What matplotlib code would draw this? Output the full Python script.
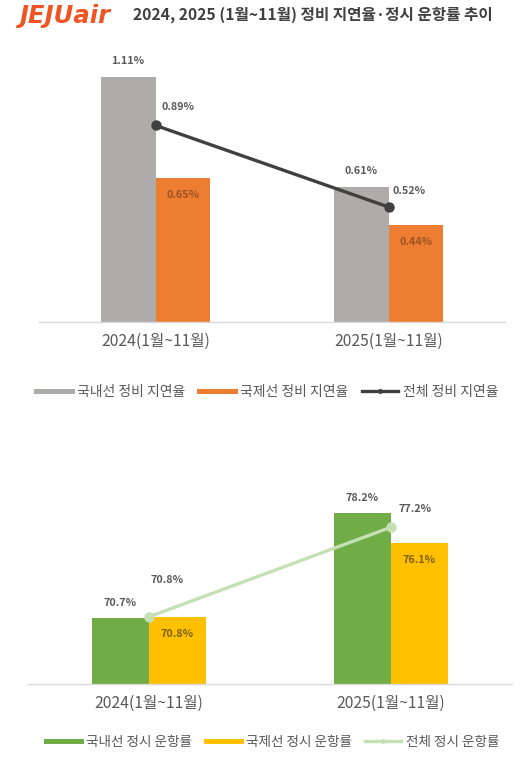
import matplotlib
matplotlib.use("Agg")
import matplotlib.pyplot as plt
from matplotlib.lines import Line2D
import numpy as np

plt.rcParams['font.family'] = ['Noto Sans CJK KR', 'DejaVu Sans']

categories = ['2024(1월~11월)', '2025(1월~11월)']

delay_domestic = [1.11, 0.61]
delay_international = [0.65, 0.44]
delay_total = [0.89, 0.52]
delay_labels = ['국내선 정비 지연율', '국제선 정비 지연율', '전체 정비 지연율']

ontime_domestic = [70.7, 78.2]
ontime_international = [70.8, 76.1]
ontime_total = [70.8, 77.2]
ontime_labels = ['국내선 정시 운항률', '국제선 정시 운항률', '전체 정시 운항률']

title_text = '2024, 2025 (1월~11월) 정비 지연율·정시 운항률 추이'
logo_text = 'JEJUair'

W, H = 520, 781
fig = plt.figure(figsize=(W / 100, H / 100), dpi=100)
fig.patch.set_facecolor('white')

def px_axes(left, top, right, bottom):
    return fig.add_axes([left / W, 1 - bottom / H, (right - left) / W, (bottom - top) / H])

LABEL_C = '#595959'
bw = 0.236

def style_axes(ax, ylim):
    ax.set_xlim(-0.5, 1.5)
    ax.set_ylim(*ylim)
    for s in ['top', 'right', 'left']:
        ax.spines[s].set_visible(False)
    ax.spines['bottom'].set_color('#d9d9d9')
    ax.spines['bottom'].set_linewidth(1.0)
    ax.set_yticks([])
    ax.set_xticks(np.arange(len(categories)))
    ax.set_xticklabels(categories, fontsize=11.3, color=LABEL_C)
    ax.tick_params(axis='x', length=0, pad=8)
    ax.set_facecolor('none')

def label(ax, x, y, txt, dx, dy, color=LABEL_C, weight='bold'):
    ax.annotate(txt, xy=(x, y), xytext=(dx, dy), textcoords='offset pixels',
                ha='center', va='center', fontsize=7.8, color=color, fontweight=weight)

x = np.arange(len(categories))

# ---------- Top chart ----------
ax1 = px_axes(39, 57, 505, 321.7)
style_axes(ax1, (0, 1.2))
ax1.bar(x - bw / 2, delay_domestic, bw, color='#afabab', zorder=2)
ax1.bar(x + bw / 2, delay_international, bw, color='#ed7d31', zorder=2)
ax1.plot(x, delay_total, color='#404040', lw=2.4, marker='o', ms=6.5, zorder=3)
for i in range(len(x)):
    label(ax1, x[i] - bw / 2, delay_domestic[i], f'{delay_domestic[i]:.2f}%', 0, 16)
    label(ax1, x[i] + bw / 2, delay_international[i], f'{delay_international[i]:.2f}%', 0, -17, color='#9c5324')
label(ax1, x[0], delay_total[0], f'{delay_total[0]:.2f}%', 23, 18)
label(ax1, x[1], delay_total[1], f'{delay_total[1]:.2f}%', 21, 16)

h1 = [Line2D([], [], color='#afabab', lw=3.6),
      Line2D([], [], color='#ed7d31', lw=3.6),
      Line2D([], [], color='#404040', lw=2.4, marker='o', ms=2.5)]
fig.legend(h1, delay_labels, loc='center', bbox_to_anchor=(267 / W, 1 - 391.7 / H),
           ncol=3, frameon=False, fontsize=10, handlelength=2.6, handletextpad=0.35,
           columnspacing=1.0, labelcolor=LABEL_C)

# ---------- Bottom chart ----------
ax2 = px_axes(28, 488, 512, 684)
style_axes(ax2, (66, 80))
ax2.bar(x - bw / 2, ontime_domestic, bw, color='#70ad47', zorder=2)
ax2.bar(x + bw / 2, ontime_international, bw, color='#ffc000', zorder=2)
ax2.plot(x, ontime_total, color='#c5e0b4', lw=2.4, marker='o', ms=6.5, zorder=3)
for i in range(len(x)):
    label(ax2, x[i] - bw / 2, ontime_domestic[i], f'{ontime_domestic[i]:.1f}%', 0, 15)
    label(ax2, x[i] + bw / 2, ontime_international[i], f'{ontime_international[i]:.1f}%', 0, -17, color='#7f6000')
label(ax2, x[0], ontime_total[0], f'{ontime_total[0]:.1f}%', 18, 37)
label(ax2, x[1], ontime_total[1], f'{ontime_total[1]:.1f}%', 24, 18)

h2 = [Line2D([], [], color='#70ad47', lw=3.6),
      Line2D([], [], color='#ffc000', lw=3.6),
      Line2D([], [], color='#c5e0b4', lw=2.4, marker='o', ms=2.5)]
fig.legend(h2, ontime_labels, loc='center', bbox_to_anchor=(272.5 / W, 1 - 742 / H),
           ncol=3, frameon=False, fontsize=9.8, handlelength=2.6, handletextpad=0.35,
           columnspacing=1.0, labelcolor=LABEL_C)

# ---------- Title ----------
fig.text(19 / W, 1 - 16 / H, logo_text, fontsize=17.5, fontweight='bold', style='italic',
         family='DejaVu Sans', color='#f05423', ha='left', va='center')
fig.text(133 / W, 1 - 15 / H, title_text, fontsize=11.3, fontweight='bold',
         color='#404040', ha='left', va='center')

fig.savefig('out.png', dpi=100, facecolor='white')
